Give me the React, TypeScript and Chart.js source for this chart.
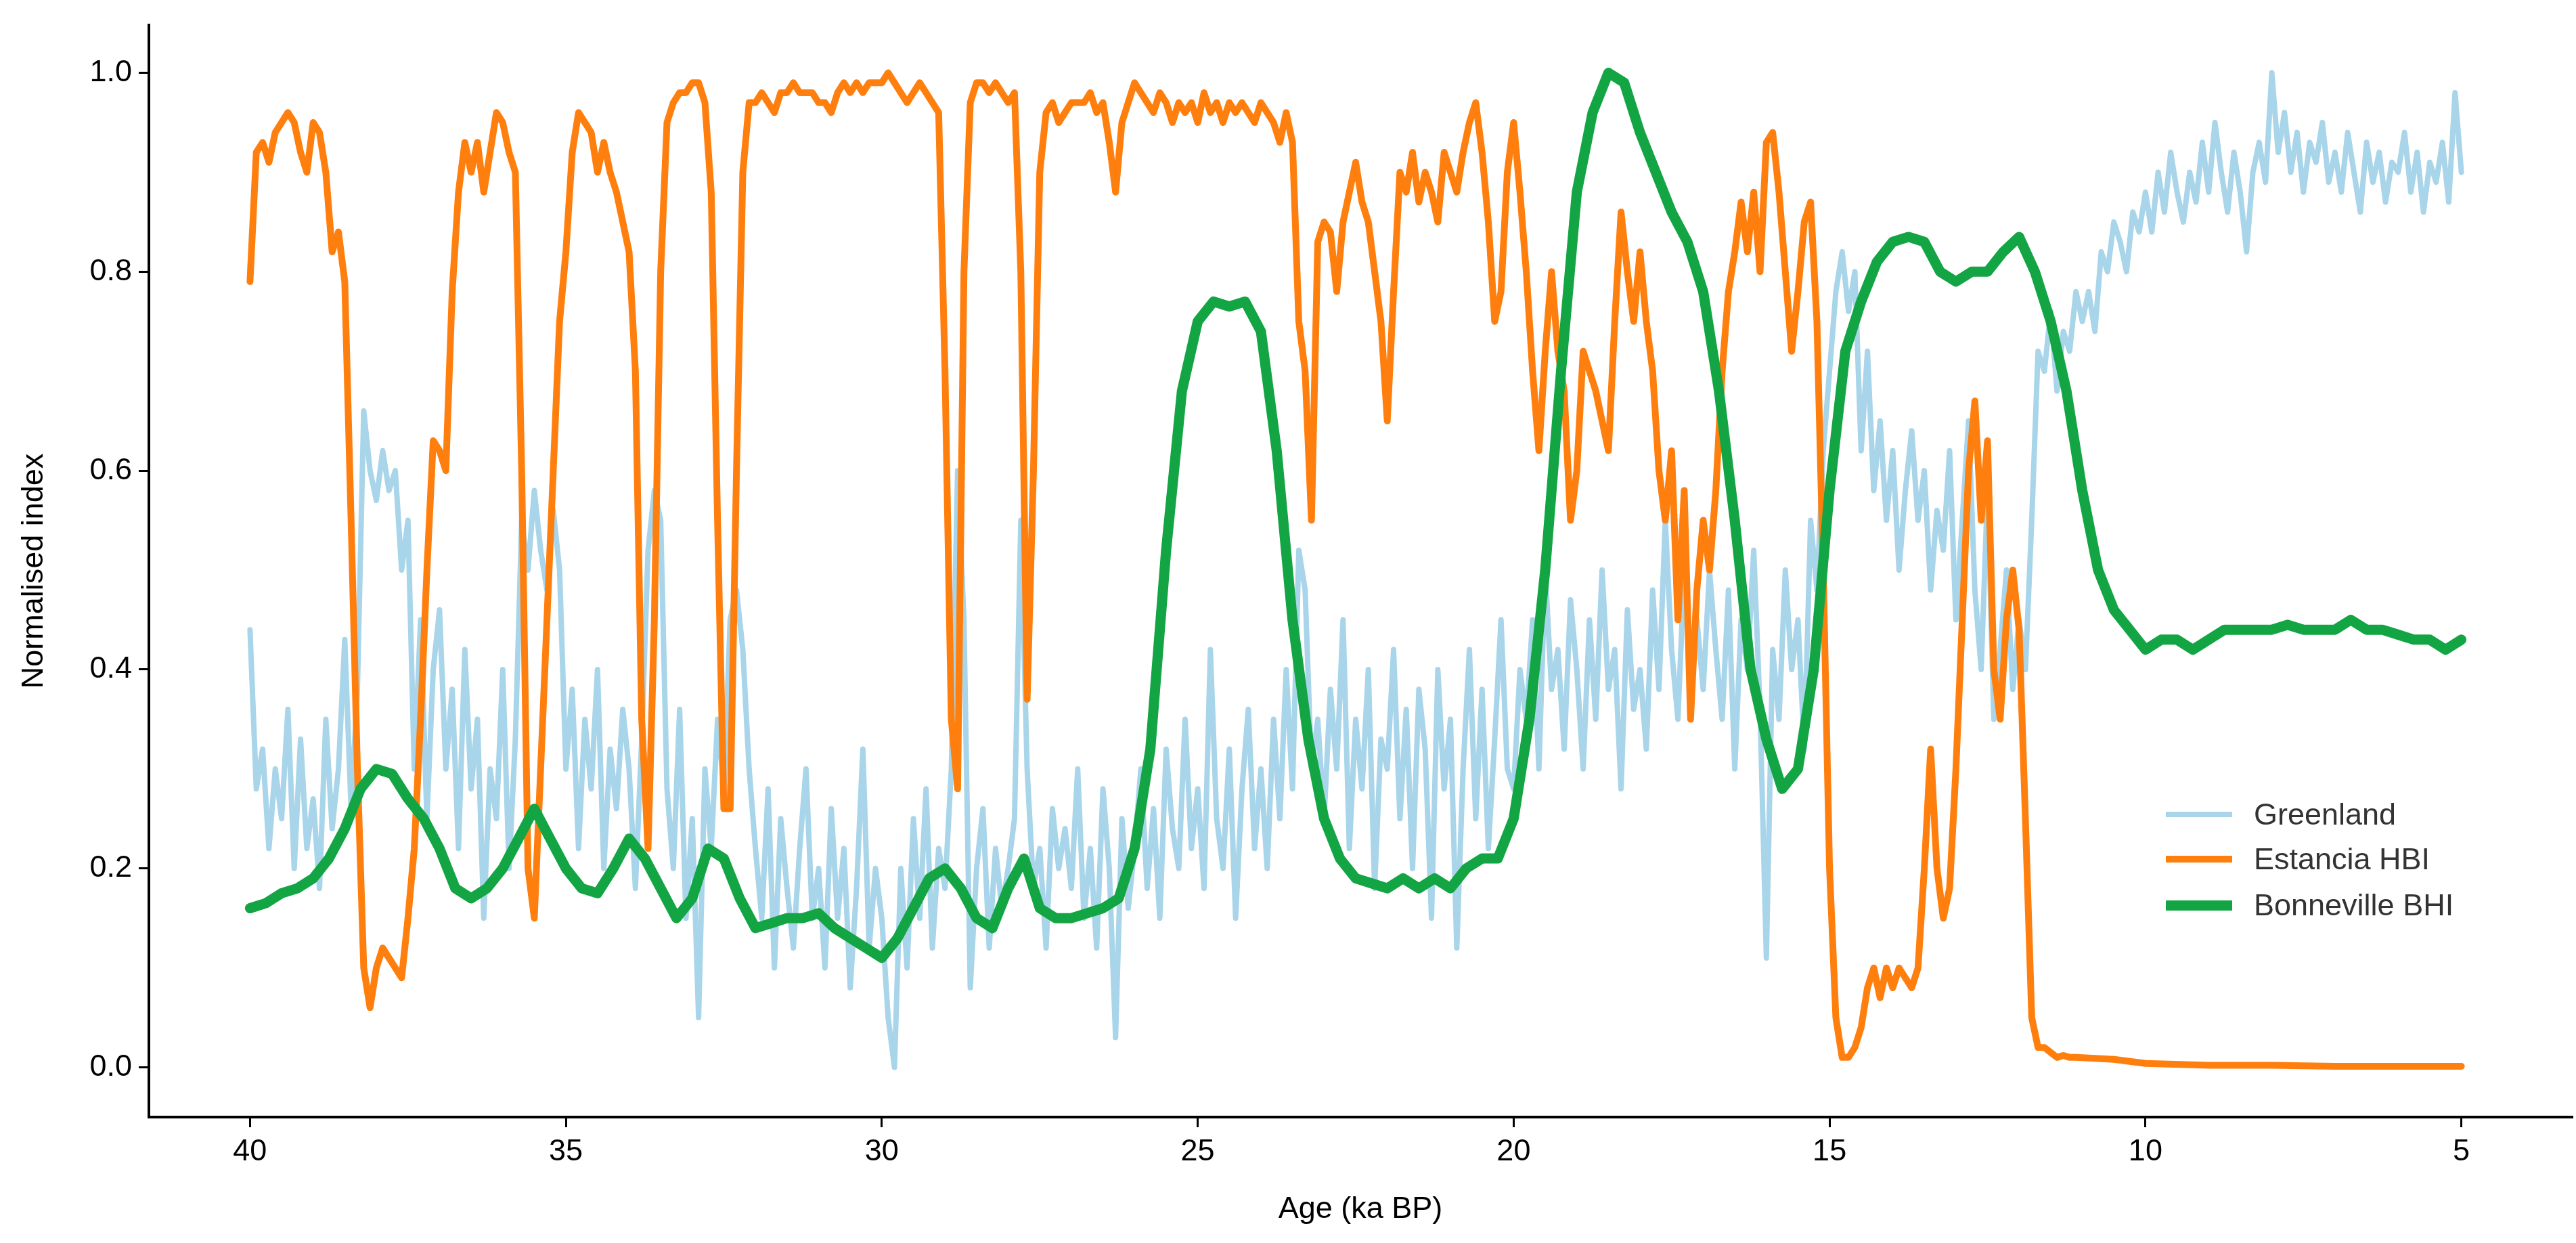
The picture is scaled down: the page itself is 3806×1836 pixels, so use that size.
import React, { useEffect, useRef } from "react";
import { Chart, registerables } from "chart.js";
Chart.register(...registerables);

// Greenland: 40.0 -> 5.0 ka, step 0.1
const greenlandValues = [
  0.44,0.28,0.32,0.22,0.30,0.25,0.36,0.20,0.33,0.22,
  0.27,0.18,0.35,0.24,0.30,0.43,0.26,0.38,0.66,0.60,
  0.57,0.62,0.58,0.60,0.50,0.55,0.30,0.45,0.25,0.40,
  0.46,0.30,0.38,0.22,0.42,0.28,0.35,0.15,0.30,0.25,
  0.40,0.20,0.33,0.55,0.50,0.58,0.52,0.48,0.56,0.50,
  0.30,0.38,0.22,0.35,0.28,0.40,0.20,0.32,0.26,0.36,
  0.30,0.18,0.33,0.52,0.58,0.55,0.28,0.20,0.36,0.15,
  0.25,0.05,0.30,0.22,0.35,0.28,0.45,0.48,0.42,0.30,
  0.22,0.15,0.28,0.10,0.25,0.18,0.12,0.22,0.30,0.15,
  0.20,0.10,0.26,0.15,0.22,0.08,0.18,0.32,0.12,0.20,
  0.15,0.05,0.00,0.20,0.10,0.25,0.15,0.28,0.12,0.22,
  0.18,0.30,0.60,0.45,0.08,0.20,0.26,0.12,0.22,0.16,
  0.20,0.25,0.55,0.30,0.18,0.22,0.12,0.26,0.20,0.24,
  0.18,0.30,0.15,0.22,0.12,0.28,0.20,0.03,0.25,0.16,
  0.22,0.30,0.18,0.26,0.15,0.32,0.24,0.20,0.35,0.22,
  0.28,0.18,0.42,0.25,0.20,0.32,0.15,0.28,0.36,0.22,
  0.30,0.20,0.35,0.25,0.40,0.28,0.52,0.48,0.30,0.35,
  0.25,0.38,0.30,0.45,0.22,0.35,0.28,0.40,0.18,0.33,
  0.30,0.42,0.25,0.36,0.20,0.38,0.32,0.15,0.40,0.28,
  0.35,0.12,0.30,0.42,0.25,0.38,0.22,0.33,0.45,0.30,
  0.28,0.40,0.35,0.45,0.30,0.50,0.38,0.42,0.32,0.47,
  0.40,0.30,0.45,0.35,0.50,0.38,0.42,0.28,0.46,0.36,
  0.40,0.32,0.48,0.38,0.55,0.42,0.35,0.50,0.40,0.45,
  0.38,0.50,0.42,0.35,0.48,0.30,0.45,0.40,0.52,0.36,
  0.11,0.42,0.35,0.50,0.40,0.45,0.32,0.55,0.48,0.62,
  0.70,0.78,0.82,0.76,0.80,0.62,0.72,0.58,0.65,0.55,
  0.62,0.50,0.58,0.64,0.55,0.60,0.48,0.56,0.52,0.62,
  0.45,0.55,0.65,0.48,0.40,0.58,0.35,0.42,0.50,0.38,
  0.45,0.40,0.55,0.72,0.70,0.76,0.68,0.74,0.72,0.78,
  0.75,0.78,0.74,0.82,0.80,0.85,0.83,0.80,0.86,0.84,
  0.88,0.84,0.90,0.86,0.92,0.88,0.85,0.90,0.87,0.93,
  0.88,0.95,0.90,0.86,0.92,0.88,0.82,0.90,0.93,0.89,
  1.00,0.92,0.96,0.90,0.94,0.88,0.93,0.91,0.95,0.89,
  0.92,0.88,0.94,0.90,0.86,0.93,0.89,0.92,0.87,0.91,
  0.90,0.94,0.88,0.92,0.86,0.91,0.89,0.93,0.87,0.98,
  0.90,
];

// Estancia HBI: 40.0 -> 11.1 ka step 0.1, then tail
const estanciaValues = [
  0.79,0.92,0.93,0.91,0.94,0.95,0.96,0.95,0.92,0.90,
  0.95,0.94,0.90,0.82,0.84,0.79,0.55,0.30,0.10,0.06,
  0.10,0.12,0.11,0.10,0.09,0.15,0.22,0.35,0.50,0.63,
  0.62,0.60,0.78,0.88,0.93,0.90,0.93,0.88,0.92,0.96,
  0.95,0.92,0.90,0.60,0.20,0.15,0.30,0.45,0.60,0.75,
  0.82,0.92,0.96,0.95,0.94,0.90,0.93,0.90,0.88,0.85,
  0.82,0.70,0.35,0.22,0.45,0.80,0.95,0.97,0.98,0.98,
  0.99,0.99,0.97,0.88,0.55,0.26,0.26,0.60,0.90,0.97,
  0.97,0.98,0.97,0.96,0.98,0.98,0.99,0.98,0.98,0.98,
  0.97,0.97,0.96,0.98,0.99,0.98,0.99,0.98,0.99,0.99,
  0.99,1.00,0.99,0.98,0.97,0.98,0.99,0.98,0.97,0.96,
  0.70,0.35,0.28,0.80,0.97,0.99,0.99,0.98,0.99,0.98,
  0.97,0.98,0.80,0.37,0.60,0.90,0.96,0.97,0.95,0.96,
  0.97,0.97,0.97,0.98,0.96,0.97,0.93,0.88,0.95,0.97,
  0.99,0.98,0.97,0.96,0.98,0.97,0.95,0.97,0.96,0.97,
  0.95,0.98,0.96,0.97,0.95,0.97,0.96,0.97,0.96,0.95,
  0.97,0.96,0.95,0.93,0.96,0.93,0.75,0.70,0.55,0.83,
  0.85,0.84,0.78,0.85,0.88,0.91,0.87,0.85,0.80,0.75,
  0.65,0.78,0.90,0.88,0.92,0.87,0.90,0.88,0.85,0.92,
  0.90,0.88,0.92,0.95,0.97,0.92,0.85,0.75,0.78,0.90,
  0.95,0.88,0.80,0.70,0.62,0.72,0.80,0.72,0.68,0.55,
  0.60,0.72,0.70,0.68,0.65,0.62,0.75,0.86,0.80,0.75,
  0.82,0.75,0.70,0.60,0.55,0.62,0.45,0.58,0.35,0.48,
  0.55,0.50,0.58,0.70,0.78,0.82,0.87,0.82,0.88,0.80,
  0.93,0.94,0.88,0.80,0.72,0.78,0.85,0.87,0.75,0.50,
  0.20,0.05,0.01,0.01,0.02,0.04,0.08,0.10,0.07,0.10,
  0.08,0.10,0.09,0.08,0.10,0.20,0.32,0.20,0.15,0.18,
  0.30,0.45,0.60,0.67,0.55,0.63,0.40,0.35,0.45,0.50,
  0.44,0.25,0.05,0.02,0.02,0.015,0.01,0.012,0.01,0.01,
];
const estanciaTailAges = [10.5, 10, 9, 8, 7, 6, 5];
const estanciaTailValues = [0.008, 0.004, 0.002, 0.002, 0.001, 0.001, 0.001];

// Bonneville BHI: 40.0 -> 5.0 ka, step 0.25
const bonnevilleValues = [
  0.16,0.165,0.175,0.18,0.19,0.21,0.24,0.28,0.30,0.295,
  0.27,0.25,0.22,0.18,0.17,0.18,0.20,0.23,0.26,0.23,
  0.20,0.18,0.175,0.20,0.23,0.21,0.18,0.15,0.17,0.22,
  0.21,0.17,0.14,0.145,0.15,0.15,0.155,0.14,0.13,0.12,
  0.11,0.13,0.16,0.19,0.20,0.18,0.15,0.14,0.18,0.21,
  0.16,0.15,0.15,0.155,0.16,0.17,0.22,0.32,0.52,0.68,
  0.75,0.77,0.765,0.77,0.74,0.62,0.45,0.33,0.25,0.21,
  0.19,0.185,0.18,0.19,0.18,0.19,0.18,0.20,0.21,0.21,
  0.25,0.35,0.50,0.70,0.88,0.96,1.00,0.99,0.94,0.90,
  0.86,0.83,0.78,0.68,0.55,0.40,0.33,0.28,0.30,0.40,
  0.58,0.72,0.77,0.81,0.83,0.835,0.83,0.80,0.79,0.80,
  0.80,0.82,0.835,0.80,0.75,0.68,0.58,0.50,0.46,0.44,
  0.42,0.43,0.43,0.42,0.43,0.44,0.44,0.44,0.44,0.445,
  0.44,0.44,0.44,0.45,0.44,0.44,0.435,0.43,0.43,0.42,
  0.43,
];

const xTicks = [40, 35, 30, 25, 20, 15, 10, 5];
const yTicks = [0, 0.2, 0.4, 0.6, 0.8, 1.0];

const C_GREEN = "#a8d5e9";
const C_ORANGE = "#ff7f0e";
const C_BONN = "#13a544";

export default function App() {
  const ref = useRef<HTMLCanvasElement>(null);
  useEffect(() => {
    document.body.style.margin = "0";
    const r = (v: number) => Math.round(v * 100) / 100;
    const gData = greenlandValues.map((y, i) => ({ x: r(40 - i * 0.1), y }));
    const eData = estanciaValues
      .map((y, i) => ({ x: r(40 - i * 0.1), y }))
      .concat(estanciaTailAges.map((x, i) => ({ x, y: estanciaTailValues[i] })));
    const bData = bonnevilleValues.map((y, i) => ({ x: r(40 - i * 0.25), y }));
    const font = { family: "Liberation Sans, Arial, sans-serif", size: 45 };
    const common = { pointRadius: 0, borderJoinStyle: "round", borderCapStyle: "round" };
    const chart = new Chart(ref.current!, {
      type: "line",
      data: {
        datasets: [
          { label: "Greenland", data: gData, borderColor: C_GREEN, borderWidth: 8, order: 3, ...common },
          { label: "Estancia HBI", data: eData, borderColor: C_ORANGE, borderWidth: 10, order: 2, ...common },
          { label: "Bonneville BHI", data: bData, borderColor: C_BONN, borderWidth: 15, order: 1, ...common },
        ],
      },
      options: {
        animation: false,
        responsive: false,
        devicePixelRatio: 1,
        layout: { padding: { top: 29, right: 6, left: 20, bottom: 22 } },
        plugins: { legend: { display: false }, tooltip: { enabled: false } },
        scales: {
          x: {
            type: "linear",
            reverse: true,
            min: 3.25,
            max: 41.6,
            afterBuildTicks: (s: any) => { s.ticks = xTicks.map((v) => ({ value: v })); },
            afterFit: (s: any) => { s.height = 164; },
            ticks: { color: "#000", font, padding: 10, autoSkip: false, maxRotation: 0 },
            grid: { drawOnChartArea: false, tickLength: 15, color: "#000", lineWidth: 3 },
            border: { color: "#000", width: 4 },
            title: { display: true, text: "Age (ka BP)", color: "#000", font, padding: { top: 0, bottom: 0 } },
          },
          y: {
            type: "linear",
            min: -0.05,
            max: 1.048,
            afterBuildTicks: (s: any) => { s.ticks = yTicks.map((v) => ({ value: v })); },
            afterFit: (s: any) => { s.width = 200; },
            ticks: { color: "#000", font, padding: 10, callback: (v: any) => Number(v).toFixed(1) },
            grid: { drawOnChartArea: false, tickLength: 15, color: "#000", lineWidth: 3 },
            border: { color: "#000", width: 4 },
            title: { display: true, text: "Normalised index", color: "#000", font, padding: { bottom: 4 } },
          },
        },
      },
    } as any);
    return () => chart.destroy();
  }, []);

  const items = [
    { label: "Greenland", color: C_GREEN, w: 8, top: 1203 },
    { label: "Estancia HBI", color: C_ORANGE, w: 10, top: 1269 },
    { label: "Bonneville BHI", color: C_BONN, w: 15, top: 1337 },
  ];
  return (
    <div style={{ position: "relative", width: 3806, height: 1836 }}>
      <canvas ref={ref} width={3806} height={1836} style={{ display: "block" }} />
      {items.map((it) => (
        <div key={it.label} style={{ position: "absolute", left: 3200, top: it.top - 27, height: 54, display: "flex", alignItems: "center", fontFamily: "Liberation Sans, Arial, sans-serif", fontSize: 45, color: "#333" }}>
          <div style={{ width: 98, height: it.w, background: it.color, marginRight: 32 }} />
          <span>{it.label}</span>
        </div>
      ))}
    </div>
  );
}
